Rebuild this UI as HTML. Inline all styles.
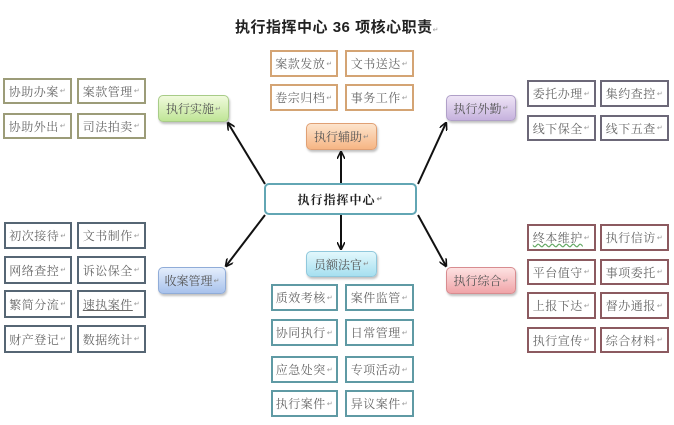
<!DOCTYPE html>
<html><head><meta charset="utf-8"><style>
html,body{margin:0;padding:0;background:#fff;}
body{width:674px;height:425px;position:relative;overflow:hidden;font-family:"Liberation Serif","Noto Serif CJK SC",serif;}
.b{position:absolute;box-sizing:border-box;background:#fff;color:#666;font-size:12px;display:flex;align-items:center;justify-content:center;letter-spacing:0.5px;}
.b i{font-style:normal;font-size:7px;color:#999;margin-left:1px;align-self:center;}
.ol{border:2px solid #9c9c78;}
.or{border:2px solid #d4a474;}
.pu{border:2px solid #6c6878;}
.sl{border:2px solid #566674;}
.te{border:2px solid #5f9aa4;}
.ma{border:2px solid #8c5a60;}
.h{position:absolute;box-sizing:border-box;border-radius:5px;font-size:12px;color:#555;display:flex;align-items:center;justify-content:center;box-shadow:1px 2px 2px rgba(0,0,0,0.25);}
.h i{font-style:normal;font-size:7px;color:#888;margin-left:1px;}
.title{position:absolute;left:0;width:674px;top:16px;text-align:center;font-family:"Liberation Sans","Noto Sans CJK SC",sans-serif;font-weight:bold;font-size:15px;color:#222;letter-spacing:0.5px;}
</style></head><body>
<div class="title">执行指挥中心 36 项核心职责<span style="font-size:7px;color:#999;font-weight:normal">↵</span></div>

<svg width="674" height="425" style="position:absolute;left:0;top:0">
<defs><marker id="a" markerWidth="8" markerHeight="8" refX="7" refY="4" orient="auto" markerUnits="userSpaceOnUse"><path d="M0,0 L8,4 L0,8" fill="none" stroke="#111" stroke-width="1.6"/></marker></defs>
<g stroke="#111" stroke-width="2" fill="none" marker-end="url(#a)">
<line x1="265" y1="184" x2="228" y2="123"/>
<line x1="341" y1="183" x2="341" y2="152"/>
<line x1="418" y1="184" x2="446" y2="123"/>
<line x1="265" y1="215" x2="226" y2="266"/>
<line x1="341" y1="215" x2="341" y2="249"/>
<line x1="418" y1="215" x2="446" y2="266"/>
</g></svg>

<div class="b ol" style="left:3px;top:78px;width:69px;height:26px">协助办案<i>↵</i></div>
<div class="b ol" style="left:77px;top:78px;width:69px;height:26px">案款管理<i>↵</i></div>
<div class="b ol" style="left:3px;top:113px;width:69px;height:26px">协助外出<i>↵</i></div>
<div class="b ol" style="left:77px;top:113px;width:69px;height:26px">司法拍卖<i>↵</i></div>
<div class="h" style="left:158px;top:95px;width:71px;height:27px;background:linear-gradient(#f0fadc,#bfe596);border:1px solid #a8cc88">执行实施<i>↵</i></div>

<div class="b or" style="left:270px;top:50px;width:68px;height:27px">案款发放<i>↵</i></div>
<div class="b or" style="left:345px;top:50px;width:69px;height:27px">文书送达<i>↵</i></div>
<div class="b or" style="left:270px;top:84px;width:68px;height:27px">卷宗归档<i>↵</i></div>
<div class="b or" style="left:345px;top:84px;width:69px;height:27px">事务工作<i>↵</i></div>
<div class="h" style="left:306px;top:123px;width:71px;height:27px;background:linear-gradient(#fde4cc,#f6b584);border:1px solid #e0a074">执行辅助<i>↵</i></div>

<div class="b pu" style="left:527px;top:80px;width:69px;height:27px">委托办理<i>↵</i></div>
<div class="b pu" style="left:600px;top:80px;width:69px;height:27px">集约查控<i>↵</i></div>
<div class="b pu" style="left:527px;top:115px;width:69px;height:26px">线下保全<i>↵</i></div>
<div class="b pu" style="left:600px;top:115px;width:69px;height:26px">线下五查<i>↵</i></div>
<div class="h" style="left:446px;top:95px;width:70px;height:26px;background:linear-gradient(#eee4f6,#c6b2de);border:1px solid #b0a0c8">执行外勤<i>↵</i></div>

<div class="h" style="left:264px;top:183px;width:153px;height:32px;background:#fff;border:2px solid #62a6b4;font-weight:bold;color:#222;box-shadow:none;letter-spacing:1px">执行指挥中心<i>↵</i></div>

<div class="b sl" style="left:4px;top:222px;width:68px;height:27px">初次接待<i>↵</i></div>
<div class="b sl" style="left:77px;top:222px;width:69px;height:27px">文书制作<i>↵</i></div>
<div class="b sl" style="left:4px;top:256px;width:68px;height:28px">网络查控<i>↵</i></div>
<div class="b sl" style="left:77px;top:256px;width:69px;height:28px">诉讼保全<i>↵</i></div>
<div class="b sl" style="left:4px;top:290px;width:68px;height:28px">繁简分流<i>↵</i></div>
<div class="b sl" style="left:77px;top:290px;width:69px;height:28px"><u>速执案件</u><i>↵</i></div>
<div class="b sl" style="left:4px;top:325px;width:68px;height:28px">财产登记<i>↵</i></div>
<div class="b sl" style="left:77px;top:325px;width:69px;height:28px">数据统计<i>↵</i></div>
<div class="h" style="left:158px;top:267px;width:68px;height:27px;background:linear-gradient(#e4eefc,#a8c2ec);border:1px solid #90acd8">收案管理<i>↵</i></div>

<div class="h" style="left:306px;top:251px;width:71px;height:26px;background:linear-gradient(#e2f8fc,#a6e0f0);border:1px solid #90c8dc">员额法官<i>↵</i></div>
<div class="b te" style="left:271px;top:284px;width:67px;height:27px">质效考核<i>↵</i></div>
<div class="b te" style="left:345px;top:284px;width:69px;height:27px">案件监管<i>↵</i></div>
<div class="b te" style="left:271px;top:319px;width:67px;height:27px">协同执行<i>↵</i></div>
<div class="b te" style="left:345px;top:319px;width:69px;height:27px">日常管理<i>↵</i></div>
<div class="b te" style="left:271px;top:356px;width:67px;height:27px">应急处突<i>↵</i></div>
<div class="b te" style="left:345px;top:356px;width:69px;height:27px">专项活动<i>↵</i></div>
<div class="b te" style="left:271px;top:390px;width:67px;height:27px">执行案件<i>↵</i></div>
<div class="b te" style="left:345px;top:390px;width:69px;height:27px">异议案件<i>↵</i></div>

<div class="h" style="left:446px;top:267px;width:70px;height:27px;background:linear-gradient(#fde2e2,#f0a4a8);border:1px solid #d88c90">执行综合<i>↵</i></div>
<div class="b ma" style="left:527px;top:224px;width:69px;height:27px"><u style="text-decoration-style:wavy;text-decoration-color:#6a6">终本维护</u><i>↵</i></div>
<div class="b ma" style="left:600px;top:224px;width:69px;height:27px">执行信访<i>↵</i></div>
<div class="b ma" style="left:527px;top:259px;width:69px;height:26px">平台值守<i>↵</i></div>
<div class="b ma" style="left:600px;top:259px;width:69px;height:26px">事项委托<i>↵</i></div>
<div class="b ma" style="left:527px;top:292px;width:69px;height:27px">上报下达<i>↵</i></div>
<div class="b ma" style="left:600px;top:292px;width:69px;height:27px">督办通报<i>↵</i></div>
<div class="b ma" style="left:527px;top:327px;width:69px;height:26px">执行宣传<i>↵</i></div>
<div class="b ma" style="left:600px;top:327px;width:69px;height:26px">综合材料<i>↵</i></div>
</body></html>
